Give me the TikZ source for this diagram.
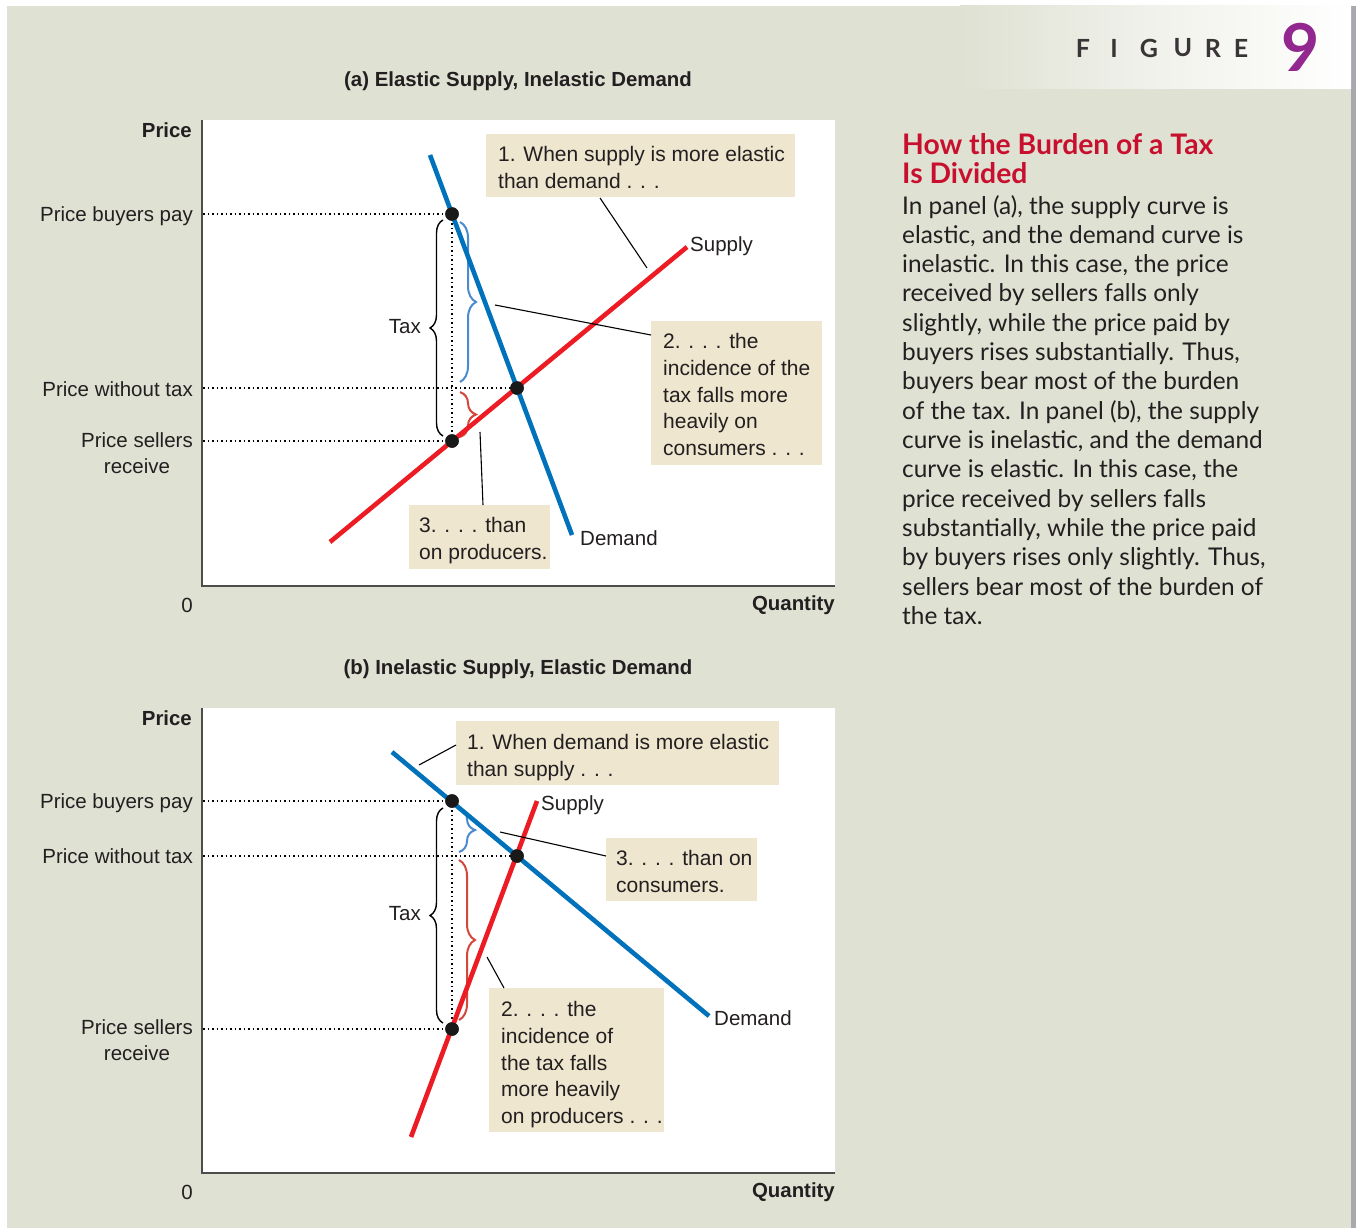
\documentclass[tikz,border=0pt]{standalone}
\usepackage{fontspec}
\setmainfont{Liberation Sans}
\newfontfamily\latof{Lato}
\usetikzlibrary{decorations.pathreplacing}
\definecolor{bgc}{HTML}{DFE1D3}
\definecolor{boxc}{HTML}{EEE6CF}
\definecolor{dblue}{HTML}{0072BC}
\definecolor{sred}{HTML}{ED1C24}
\definecolor{bblue}{HTML}{4C8BD0}
\definecolor{bred}{HTML}{D4473C}
\definecolor{hred}{HTML}{C8102E}
\definecolor{purp}{HTML}{92278F}
\definecolor{txt}{HTML}{231F20}
\definecolor{axc}{HTML}{4D4D4D}
\definecolor{edgec}{HTML}{A7A9AC}
\begin{document}
\begin{tikzpicture}[x=1pt,y=-1pt,
  lab/.style={font=\fontsize{20.5}{26}\selectfont, text=txt, inner sep=0pt},
  blab/.style={font=\bfseries\fontsize{20.4}{24}\selectfont, text=txt, inner sep=0pt},
  boxr/.style={fill=boxc, draw=none, inner sep=0pt, anchor=north west},
  boxt/.style={font=\fontsize{21}{26.8}\selectfont, text=txt, align=left, anchor=north west, inner sep=0pt},
  dem/.style={dblue, line width=4.6pt},
  sup/.style={sred, line width=4.6pt},
  dotl/.style={line width=1.8pt, dash pattern=on 1.8pt off 2.7pt, black},
  leader/.style={line width=1.1pt, black},
  ept/.style={circle, fill=black!90, minimum size=13.5pt, inner sep=0pt},
  brc/.style={decorate, decoration={brace, amplitude=#1}, line width=2pt},
  body/.style={font=\latof\fontsize{24.4}{29}\selectfont, text=txt, anchor=base west, inner sep=0pt},
  head/.style={font=\latof\bfseries\fontsize{28.3}{29}\selectfont, text=hred, anchor=base west, inner sep=0pt}
]
\useasboundingbox (0,0) rectangle (1356,1228);
\fill[white] (0,0) rectangle (1356,1228);
\fill[bgc] (7,6) rectangle (1351,1228);
\fill[edgec] (1351,6) rectangle (1356,1228);
\shade[left color=bgc, right color=white, middle color=bgc!45!white] (960,6) rectangle (1351,89);

% header
\foreach \ch/\xx [count=\i] in {F/1083,I/1114,G/1149,U/1183,R/1213,E/1241}
  \node[font=\latof\bfseries\fontsize{25}{25}\selectfont, text=txt!90, inner sep=0pt] (fig\i) at (\xx,48) {\ch};
\node[font=\latof\bfseries\fontsize{66}{66}\selectfont, text=purp, inner sep=0pt] (fignum) at (1301,47) {9};

% right column
\node[head] (h1) at (902,154.3) {How the Burden of a Tax};
\node[head] (h2) at (902,183.3) {Is Divided};
\foreach \t [count=\i] in {
  {In panel (a), the supply curve is},
  {elastic, and the demand curve is},
  {inelastic. In this case, the price},
  {received by sellers falls only},
  {slightly, while the price paid by},
  {buyers rises substantially. Thus,},
  {buyers bear most of the burden},
  {of the tax. In panel (b), the supply},
  {curve is inelastic, and the demand},
  {curve is elastic. In this case, the},
  {price received by sellers falls},
  {substantially, while the price paid},
  {by buyers rises only slightly. Thus,},
  {sellers bear most of the burden of},
  {the tax.}}
  \node[body] (b\i) at (902,{214+29.33*(\i-1)}) {\t};

% ================= PANEL A =================
\node[blab] (titA) at (518,81) {(a) Elastic Supply, Inelastic Demand};
\fill[white] (202,120) rectangle (835,586);
\coordinate (oA) at (202,586);
\coordinate (topA) at (202,120);
\coordinate (rightA) at (835,586);
\draw[axc, line width=2pt] (topA) -- (oA) -- (rightA);

\node[blab, anchor=east] (priceA) at (192,130) {Price};
\node[lab, anchor=east] (pbA) at (193,216) {Price buyers pay};
\node[lab, anchor=east] (pwA) at (193,389) {Price without tax};
\node[lab, anchor=east, align=center] (psA) at (193,453) {Price sellers\\receive};
\node[lab] (zeroA) at (187,605) {0};
\node[blab, anchor=east] (qA) at (835,605) {Quantity};

% points
\node[ept] (pa1) at (452,214) {};
\node[ept] (pa2) at (517,388) {};
\node[ept] (pa3) at (452,441) {};
\coordinate (ya1) at (203,214);
\coordinate (ya2) at (203,388);
\coordinate (ya3) at (203,441);
\draw[dotl] (ya1) -- (pa1.center);
\draw[dotl] (ya2) -- (pa2.center);
\draw[dotl] (ya3) -- (pa3.center);
\draw[dotl] (pa1.center) -- (pa3.center);

% braces
\draw[brc=13pt, line width=1.4pt] (443,436) -- (443,220);
\node[lab, anchor=east] (taxA) at (421,327) {Tax};
\draw[brc=16pt, bblue] (460,222) -- (460,382);
\draw[brc=16pt, bred] (460,392) -- (460,437);

% curves
\coordinate (dA1) at (430,155);
\coordinate (dA2) at (572,535);
\coordinate (sA1) at (330,542);
\coordinate (sA2) at (687,247);
\draw[sup] (sA1) -- (sA2);
\draw[dem] (dA1) -- (dA2);
\node[ept] at (pa1) {};
\node[ept] at (pa2) {};
\node[ept] at (pa3) {};
\node[lab, anchor=west] (supA) at (690,246) {Supply};
\node[lab, anchor=west] (demA) at (580,538) {Demand};

% boxes
\node[boxr, minimum width=309pt, minimum height=63pt] (a1) at (486,134) {};
\node[boxt] (a1t) at (498,146) {1. When supply is more elastic\\than demand . . .};
\node[boxr, minimum width=171pt, minimum height=144pt] (a2) at (651,321) {};
\node[boxt] (a2t) at (663,333) {2. . . . the\\incidence of the\\tax falls more\\heavily on\\consumers . . .};
\node[boxr, minimum width=141pt, minimum height=64pt] (a3) at (409,505) {};
\node[boxt] (a3t) at (419,517) {3. . . . than\\on producers.};
\coordinate (la1a) at (600,198);
\coordinate (la1b) at (647,268);
\draw[leader] (la1a) -- (la1b);
\coordinate (la2a) at (651,335);
\coordinate (la2b) at (495,305);
\draw[leader] (la2a) -- (la2b);
\coordinate (la3a) at (483,505);
\coordinate (la3b) at (480,432);
\draw[leader] (la3a) -- (la3b);

% ================= PANEL B =================
\node[blab] (titB) at (518,669) {(b) Inelastic Supply, Elastic Demand};
\fill[white] (202,708) rectangle (835,1173);
\coordinate (oB) at (202,1173);
\coordinate (topB) at (202,708);
\coordinate (rightB) at (835,1173);
\draw[axc, line width=2pt] (topB) -- (oB) -- (rightB);

\node[blab, anchor=east] (priceB) at (192,718) {Price};
\node[lab, anchor=east] (pbB) at (193,803) {Price buyers pay};
\node[lab, anchor=east] (pwB) at (193,856) {Price without tax};
\node[lab, anchor=east, align=center] (psB) at (193,1040) {Price sellers\\receive};
\node[lab] (zeroB) at (187,1192) {0};
\node[blab, anchor=east] (qB) at (835,1192) {Quantity};

\node[ept] (pb1) at (452,801) {};
\node[ept] (pb2) at (517,856) {};
\node[ept] (pb3) at (452,1029) {};
\coordinate (yb1) at (203,801);
\coordinate (yb2) at (203,856);
\coordinate (yb3) at (203,1029);
\draw[dotl] (yb1) -- (pb1.center);
\draw[dotl] (yb2) -- (pb2.center);
\draw[dotl] (yb3) -- (pb3.center);
\draw[dotl] (pb1.center) -- (pb3.center);

\draw[brc=13pt, line width=1.4pt] (443,1023) -- (443,808);
\node[lab, anchor=east] (taxB) at (421,914) {Tax};
\draw[brc=16pt, bblue] (459,808) -- (459,852);
\draw[brc=16pt, bred] (459,860) -- (459,1020);

\coordinate (dB1) at (392,752);
\coordinate (dB2) at (709,1016);
\coordinate (sB1) at (411,1137);
\coordinate (sB2) at (537,801);
\draw[dem] (dB1) -- (dB2);
\draw[sup] (sB1) -- (sB2);
\node[ept] at (pb1) {};
\node[ept] at (pb2) {};
\node[ept] at (pb3) {};
\node[lab, anchor=west] (supB) at (541,805) {Supply};
\node[lab, anchor=west] (demB) at (714,1018) {Demand};

\node[boxr, minimum width=323pt, minimum height=64pt] (b1) at (456,721) {};
\node[boxt] (b1t) at (467,734) {1. When demand is more elastic\\than supply . . .};
\node[boxr, minimum width=151pt, minimum height=63pt] (b3) at (606,838) {};
\node[boxt] (b3t) at (616,850) {3. . . . than on\\consumers.};
\node[boxr, minimum width=175pt, minimum height=144pt] (b2) at (489,988) {};
\node[boxt] (b2t) at (501,1001) {2. . . . the\\incidence of\\the tax falls\\more heavily\\on producers . . .};
\coordinate (lb1a) at (456,745);
\coordinate (lb1b) at (419,765);
\draw[leader] (lb1a) -- (lb1b);
\coordinate (lb3a) at (606,856);
\coordinate (lb3b) at (500,832);
\draw[leader] (lb3a) -- (lb3b);
\coordinate (lb2a) at (504,988);
\coordinate (lb2b) at (487,957);
\draw[leader] (lb2a) -- (lb2b);
\end{tikzpicture}
\end{document}
